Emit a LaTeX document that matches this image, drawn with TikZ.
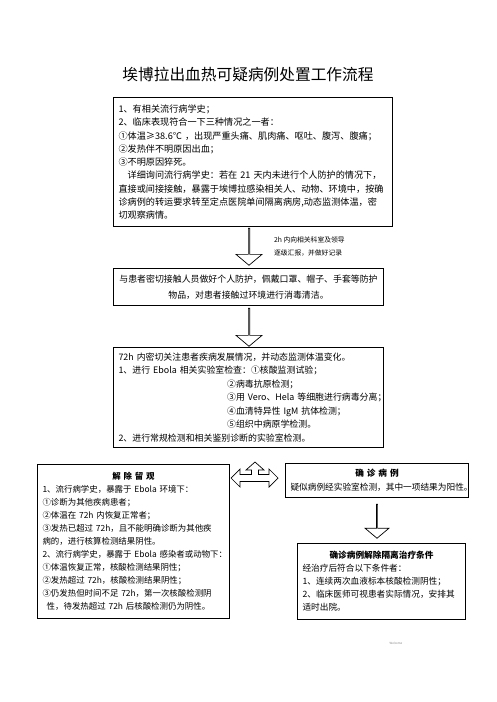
\documentclass[tikz,border=0pt]{standalone}
\usepackage{fontspec}
\setmainfont{Noto Sans CJK SC}
\setlength{\parindent}{0pt}
\usetikzlibrary{shapes.arrows, positioning}
\tikzset{
  box/.style={rectangle, draw, line width=0.9pt, anchor=north west,
              inner xsep=0.15cm, inner ysep=0pt, align=left,
              font=\fontsize{7.6}{11.3}\selectfont},
  downarrow/.style={single arrow, draw, line width=0.6pt, fill=white,
                    shape border rotate=270, single arrow tip angle=100,
                    single arrow head extend=0.2cm, minimum width=0.78cm,
                    inner sep=0pt},
  threeway/.style={draw, line width=0.6pt, fill=white, line join=miter},
}

\begin{document}
\begin{tikzpicture}[x=0.03cm, y=-0.03cm]
  \useasboundingbox (0,0) rectangle (496,702);
  % title
  \node[font=\fontsize{13.4}{16}\selectfont] (title) at (248,75) {埃博拉出血热可疑病例处置工作流程};
  % suspected case
  \node[box, text width=8.07cm, minimum height=3.87cm,
        font=\fontsize{7.8}{11.3}\selectfont] (susp) at (113,97) {%
    1、有相关流行病学史；\\
    2、临床表现符合一下三种情况之一者：\\
    ①体温≥38.6℃~，出现严重头痛、肌肉痛、呕吐、腹泻、腹痛；\\
    ②发热伴不明原因出血；\\
    ③不明原因猝死。\\
    \hspace*{1em}详细询问流行病学史：若在~21~天内未进行个人防护的情况下，\\
    直接或间接接触，暴露于埃博拉感染相关人、动物、环境中，按确\\
    诊病例的转运要求转至定点医院单间隔离病房,动态监测体温，密\\
    切观察病情。};
  \node[downarrow, minimum height=1.11cm] (a1) at (249,246.5) {};
  \node[anchor=west, align=left, font=\fontsize{5.8}{11.1}\selectfont] (note) at (270,246.5) {%
    2h~内向相关科室及领导\\
    逐级汇报，并做好记录};
  % protection
  \node[box, align=center, text width=7.8cm, minimum height=1.11cm,
        font=\fontsize{7.6}{13.7}\selectfont] (prot) at (113,268) {%
    与患者密切接触人员做好个人防护，佩戴口罩、帽子、手套等防护\\
    物品，对患者接触过环境进行消毒清洁。};
  \node[downarrow, minimum height=1.14cm] (a2) at (249,327) {};
  % observation
  \node[box, text width=7.8cm, minimum height=3.0cm,
        font=\fontsize{7.6}{11.5}\selectfont] (obs) at (113,347) {%
    72h~内密切关注患者疾病发展情况，并动态监测体温变化。\\
    1、进行~Ebola~相关实验室检查：①核酸监测试验；\\
    \hspace*{12.2em}②病毒抗原检测；\\
    \hspace*{12.2em}③用~Vero、Hela~等细胞进行病毒分离；\\
    \hspace*{12.2em}④血清特异性~IgM~抗体检测；\\
    \hspace*{12.2em}⑤组织中病原学检测。\\
    2、进行常规检测和相关鉴别诊断的实验室检测。};
  % release
  \node[box, text width=5.46cm, minimum height=4.62cm,
        font=\fontsize{7.2}{11.1}\selectfont] (rel) at (37,464) {%
    \makebox[\hsize]{\bfseries 解\ 除\ 留\ 观}\\
    1、流行病学史，暴露于~Ebola~环境下：\\
    ①诊断为其他疾病患者；\\
    ②体温在~72h~内恢复正常者；\\
    ③发热已超过~72h，且不能明确诊断为其他疾\\
    病的，进行核算检测结果阴性。\\
    2、流行病学史，暴露于~Ebola~感染者或动物下：\\
    ①体温恢复正常，核酸检测结果阴性；\\
    ②发热超过~72h，核酸检测结果阴性；\\
    ③仍发热但时间不足~72h，第一次核酸检测阴\\
    \hspace*{0.5em}性，待发热超过~72h~后核酸检测仍为阴性。};
  % confirmed
  \node[box, align=center, text width=5.19cm, minimum height=1.02cm,
        font=\fontsize{7.4}{12}\selectfont] (conf) at (285,463) {%
    {\bfseries 确\ 诊\ 病\ 例}\\
    疑似病例经实验室检测，其中一项结果为阳性。};
  \node[downarrow, minimum height=1.02cm, minimum width=0.72cm] (a3) at (377,521) {};
  % discharge
  \node[box, text width=4.74cm, minimum height=2.28cm,
        font=\fontsize{7.4}{11.1}\selectfont] (disc) at (297,543) {%
    \makebox[\hsize]{\bfseries 确诊病例解除隔离治疗条件}\\
    经治疗后符合以下条件者：\\
    1、连续两次血液标本核酸检测阴性；\\
    2、临床医师可视患者实际情况，安排其\\
    适时出院。};
  % three-way arrow
  \draw[threeway] (231,478) -- (240,469) -- (240,474.5) -- (251.5,474.5)
    -- (251.5,470) -- (246,470) -- (255,462) -- (264,470) -- (258.5,470)
    -- (258.5,474.5) -- (269,474.5) -- (269,469) -- (278,478) -- (269,487)
    -- (269,481.5) -- (240,481.5) -- (240,487) -- cycle;
  \node[font=\fontsize{2.5}{3}\selectfont, text=gray] (wm) at (396,643) {Welcome};
\end{tikzpicture}
\end{document}
